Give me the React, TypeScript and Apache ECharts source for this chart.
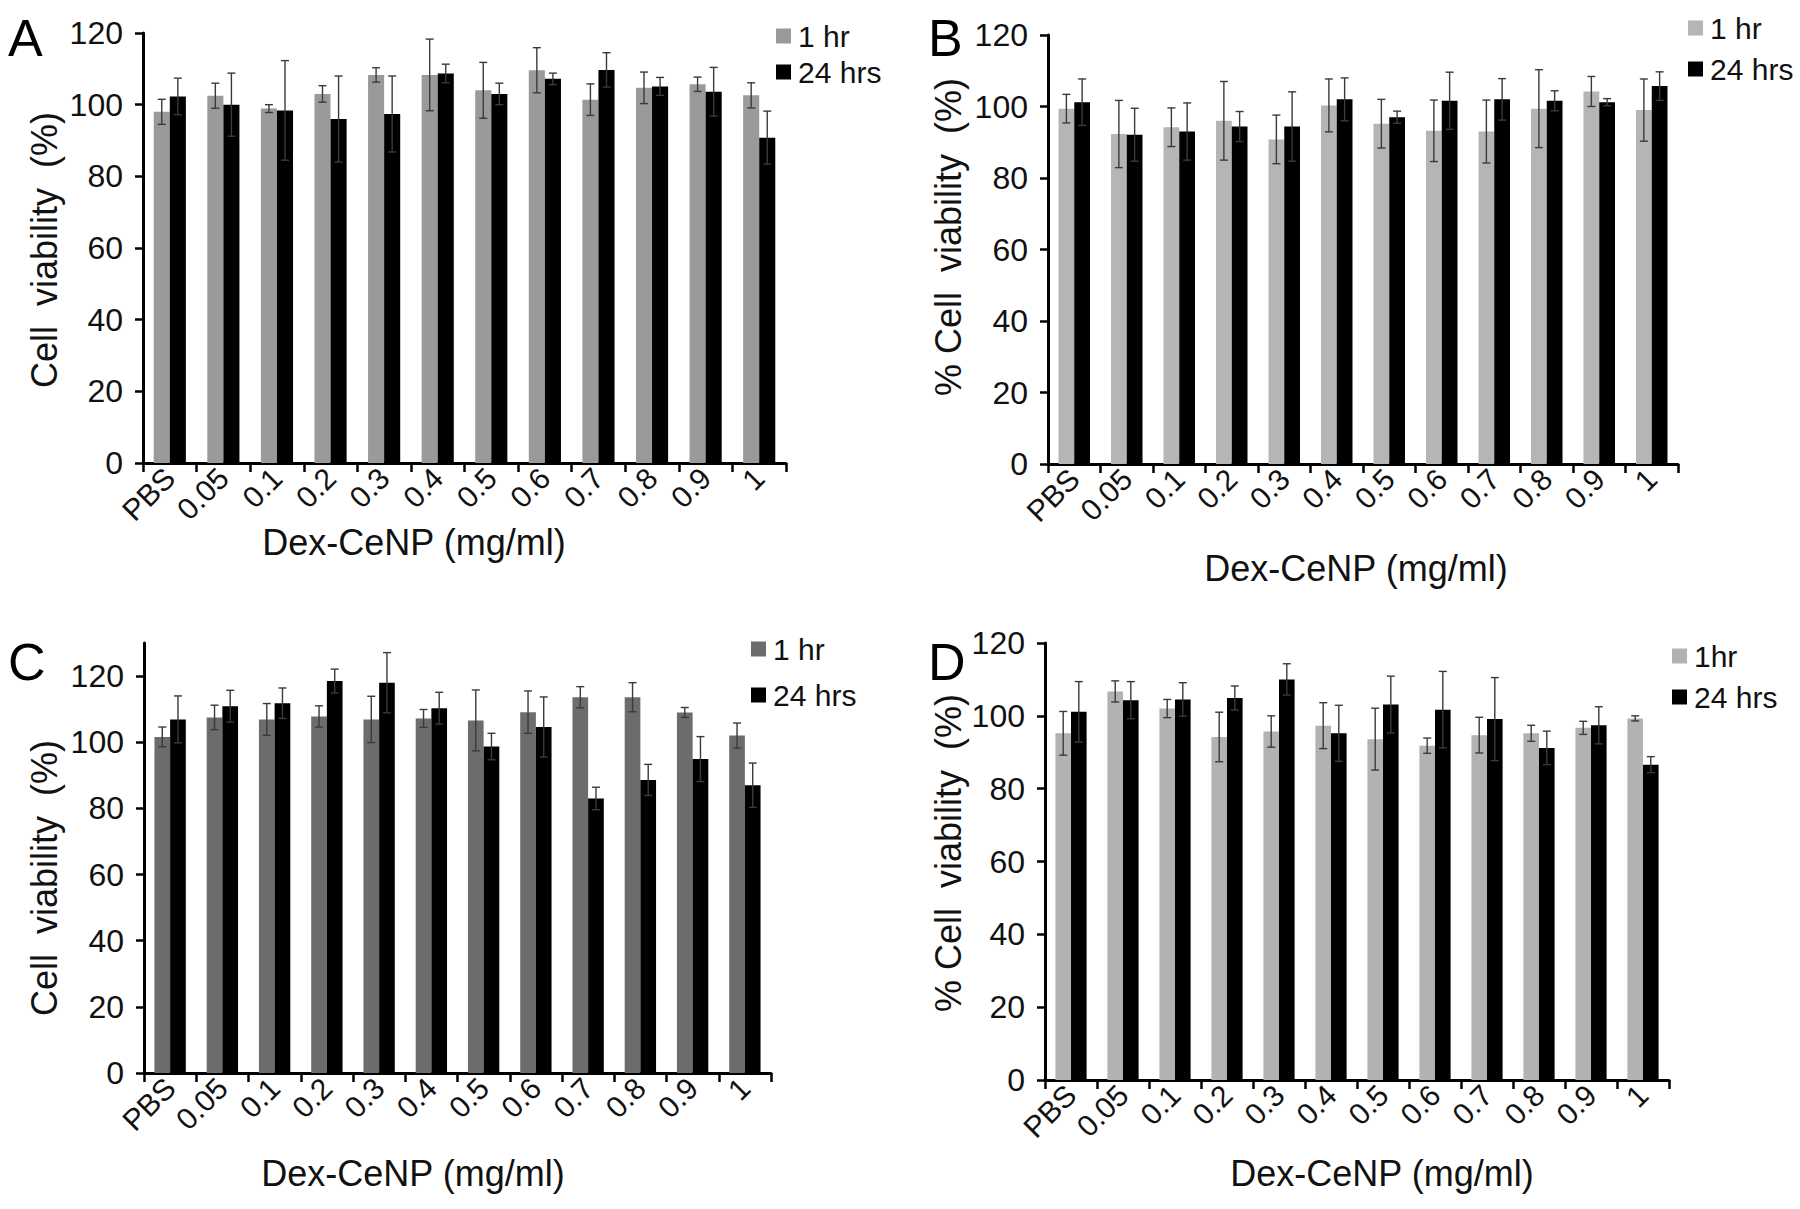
import React, { useEffect, useRef } from "react";
import * as echarts from "echarts";

const categories = ["PBS", "0.05", "0.1", "0.2", "0.3", "0.4", "0.5", "0.6", "0.7", "0.8", "0.9", "1"];
const yTicksMain = [0, 20, 40, 60, 80, 100, 120];

const A1 = [98, 102.5, 98.9, 103, 108.3, 108.3, 104, 109.6, 101.4, 104.7, 105.7, 102.6];
const A1err = [3.5, 3.5, 1.1, 2.3, 2, 10, 7.8, 6.3, 4.4, 4.4, 2, 3.5];
const A24 = [102.3, 100, 98.4, 96, 97.4, 108.7, 103, 107.2, 109.7, 105.1, 103.6, 90.8];
const A24err = [5.1, 8.8, 13.9, 12, 10.6, 2.6, 3, 1.6, 4.8, 2.5, 6.8, 7.4];

const B1 = [99.4, 92.3, 94.2, 96, 90.8, 100.3, 95.2, 93.2, 93, 99.4, 104.2, 99];
const B1err = [4, 9.4, 5.4, 11, 6.8, 7.4, 6.8, 8.6, 8.8, 10.9, 4.2, 8.7];
const B24 = [101.2, 92.1, 93, 94.4, 94.4, 102, 97, 101.6, 102, 101.6, 101.2, 105.7];
const B24err = [6.5, 7.4, 8, 4.2, 9.7, 6, 1.7, 8, 5.8, 2.8, 1, 4];

const C1 = [101.6, 107.5, 106.9, 107.8, 106.9, 107.2, 106.6, 109.1, 113.6, 113.6, 109, 102];
const C1err = [3, 3.7, 4.8, 3.2, 7, 2.7, 9.2, 6.4, 3.2, 4.4, 1.5, 3.8];
const C24 = [106.9, 110.9, 111.8, 118.5, 118, 110.3, 98.7, 104.6, 83, 88.6, 94.9, 87];
const C24err = [7.1, 4.8, 4.6, 3.6, 9.1, 4.8, 4, 9.1, 3.4, 4.7, 6.8, 6.7];

const D1 = [95.2, 106.7, 102, 94.2, 95.7, 97.3, 93.6, 91.8, 94.7, 95.2, 96.7, 99.3];
const D1err = [6, 2.9, 2.5, 6.8, 4.3, 6.3, 8.5, 2.1, 4.9, 2.2, 1.8, 0.7];
const D24 = [101.1, 104.3, 104.5, 104.9, 110, 95.2, 103.1, 101.7, 99.1, 91.2, 97.4, 86.6];
const D24err = [8.3, 5.1, 4.6, 3.3, 4.3, 7.7, 7.8, 10.5, 11.4, 4.6, 5.1, 2.2];

const FONT = "'Liberation Sans', Arial, sans-serif";
const BAR_FRAC = 0.3;

type Panel = {
  key: string;
  letter: string;
  grid: { left: number; top: number; width: number; height: number };
  yMax: number;
  gray: string;
  s1: number[];
  e1: number[];
  s24: number[];
  e24: number[];
  name1: string;
  name24: string;
  yTitle: string;
  yTitlePos: [number, number];
  xTitlePos: [number, number];
  letterPos: [number, number];
  legend: { left: number; top: number; gap: number };
};

const panels: Panel[] = [
  {
    key: "A", letter: "A",
    grid: { left: 143, top: 33, width: 643, height: 430 },
    yMax: 120, gray: "#9a9a9a",
    s1: A1, e1: A1err, s24: A24, e24: A24err,
    name1: "1 hr", name24: "24 hrs",
    yTitle: "Cell  viability  (%)", yTitlePos: [44, 250], xTitlePos: [414, 542],
    letterPos: [8, 38], legend: { left: 771, top: 16, gap: 6 },
  },
  {
    key: "B", letter: "B",
    grid: { left: 1048, top: 35, width: 630, height: 429 },
    yMax: 120, gray: "#b5b5b5",
    s1: B1, e1: B1err, s24: B24, e24: B24err,
    name1: "1 hr", name24: "24 hrs",
    yTitle: "% Cell  viability  (%)", yTitlePos: [948, 237], xTitlePos: [1356, 568],
    letterPos: [928, 38], legend: { left: 1683, top: 8, gap: 11 },
  },
  {
    key: "C", letter: "C",
    grid: { left: 144, top: 643, width: 627, height: 430 },
    yMax: 130, gray: "#6c6c6c",
    s1: C1, e1: C1err, s24: C24, e24: C24err,
    name1: "1 hr", name24: "24 hrs",
    yTitle: "Cell  viability  (%)", yTitlePos: [44, 878], xTitlePos: [413, 1173],
    letterPos: [8, 662], legend: { left: 746, top: 629, gap: 16 },
  },
  {
    key: "D", letter: "D",
    grid: { left: 1045, top: 643, width: 624, height: 437 },
    yMax: 120, gray: "#b2b2b2",
    s1: D1, e1: D1err, s24: D24, e24: D24err,
    name1: "1hr", name24: "24 hrs",
    yTitle: "% Cell  viability  (%)", yTitlePos: [948, 853], xTitlePos: [1382, 1173],
    letterPos: [928, 662], legend: { left: 1667, top: 636, gap: 11 },
  },
];

function errSeries(idx: number, vals: number[], errs: number[], side: number, key: string) {
  return {
    type: "custom",
    name: key + "-err-" + side,
    xAxisIndex: idx,
    yAxisIndex: idx,
    z: 5,
    data: vals.map((v, i) => [i, v, errs[i]]),
    encode: { x: 0, y: 1 },
    renderItem: (params: any, api: any) => {
      const ci = api.value(0);
      const v = api.value(1);
      const e = api.value(2);
      const band = api.size([1, 0])[0];
      const x = api.coord([ci, v])[0] + (side * band * BAR_FRAC) / 2;
      const yTop = api.coord([ci, v + e])[1];
      const yBot = api.coord([ci, v - e])[1];
      const cap = 4;
      const style = { stroke: "#3a3a3a", lineWidth: 1.4 };
      return {
        type: "group",
        children: [
          { type: "line", shape: { x1: x, y1: yTop, x2: x, y2: yBot }, style },
          { type: "line", shape: { x1: x - cap, y1: yTop, x2: x + cap, y2: yTop }, style },
          { type: "line", shape: { x1: x - cap, y1: yBot, x2: x + cap, y2: yBot }, style },
        ],
      };
    },
  };
}

function buildOption() {
  const grid: any[] = [];
  const xAxis: any[] = [];
  const yAxis: any[] = [];
  const series: any[] = [];
  const legend: any[] = [];
  const graphic: any[] = [];

  panels.forEach((p, idx) => {
    grid.push({ ...p.grid, containLabel: false });
    xAxis.push({
      type: "category",
      gridIndex: idx,
      data: categories,
      boundaryGap: true,
      axisLine: { lineStyle: { color: "#000", width: 3 } },
      axisTick: { show: true, length: 9, lineStyle: { color: "#000", width: 2.5 } },
      axisLabel: {
        rotate: 45,
        interval: 0,
        margin: 10,
        color: "#111",
        fontSize: 30,
        fontFamily: FONT,
      },
    });
    yAxis.push({
      type: "value",
      gridIndex: idx,
      min: 0,
      max: p.yMax,
      interval: 20,
      splitLine: { show: false },
      axisLine: { show: true, lineStyle: { color: "#000", width: 3 } },
      axisTick: { show: true, length: 8, lineStyle: { color: "#000", width: 2.5 } },
      axisLabel: {
        color: "#111",
        fontSize: 32,
        fontFamily: FONT,
        margin: 20,
        showMaxLabel: p.yMax === 120,
        formatter: (v: number) => (yTicksMain.indexOf(v) >= 0 ? String(v) : ""),
      },
    });
    const n1 = p.key + "|" + p.name1;
    const n24 = p.key + "|" + p.name24;
    series.push({
      type: "bar",
      name: n1,
      xAxisIndex: idx,
      yAxisIndex: idx,
      data: p.s1,
      barWidth: BAR_FRAC * 100 + "%",
      barGap: "0%",
      itemStyle: { color: p.gray },
    });
    series.push({
      type: "bar",
      name: n24,
      xAxisIndex: idx,
      yAxisIndex: idx,
      data: p.s24,
      barWidth: BAR_FRAC * 100 + "%",
      barGap: "0%",
      itemStyle: { color: "#000" },
    });
    series.push(errSeries(idx, p.s1, p.e1, -1, p.key));
    series.push(errSeries(idx, p.s24, p.e24, 1, p.key));
    legend.push({
      data: [n1, n24],
      orient: "vertical",
      left: p.legend.left,
      top: p.legend.top,
      itemGap: p.legend.gap,
      itemWidth: 15,
      itemHeight: 15,
      icon: "rect",
      selectedMode: false,
      formatter: (name: string) => name.split("|")[1],
      textStyle: { fontSize: 30, fontFamily: FONT, color: "#111", padding: [0, 0, 0, 2] },
    });
    graphic.push({
      type: "text",
      x: p.letterPos[0],
      y: p.letterPos[1],
      style: {
        text: p.letter,
        fontSize: 52,
        fontFamily: FONT,
        fill: "#000",
        textAlign: "left",
        textVerticalAlign: "middle",
      },
    });
    graphic.push({
      type: "text",
      x: p.yTitlePos[0],
      y: p.yTitlePos[1],
      rotation: Math.PI / 2,
      style: {
        text: p.yTitle,
        fontSize: 36,
        fontFamily: FONT,
        fill: "#111",
        textAlign: "center",
        textVerticalAlign: "middle",
      },
    });
    graphic.push({
      type: "text",
      x: p.xTitlePos[0],
      y: p.xTitlePos[1],
      style: {
        text: "Dex-CeNP (mg/ml)",
        fontSize: 36,
        fontFamily: FONT,
        fill: "#111",
        textAlign: "center",
        textVerticalAlign: "middle",
      },
    });
  });

  return {
    animation: false,
    backgroundColor: "#ffffff",
    grid,
    xAxis,
    yAxis,
    series,
    legend,
    graphic,
  };
}

export default function App() {
  const ref = useRef<HTMLDivElement>(null);
  useEffect(() => {
    document.body.style.margin = "0";
    if (!ref.current) return;
    const chart = echarts.init(ref.current, null, { renderer: "svg" });
    chart.setOption(buildOption() as any);
    return () => {
      chart.dispose();
    };
  }, []);
  return <div ref={ref} style={{ width: 1800, height: 1209, background: "#fff" }} />;
}
